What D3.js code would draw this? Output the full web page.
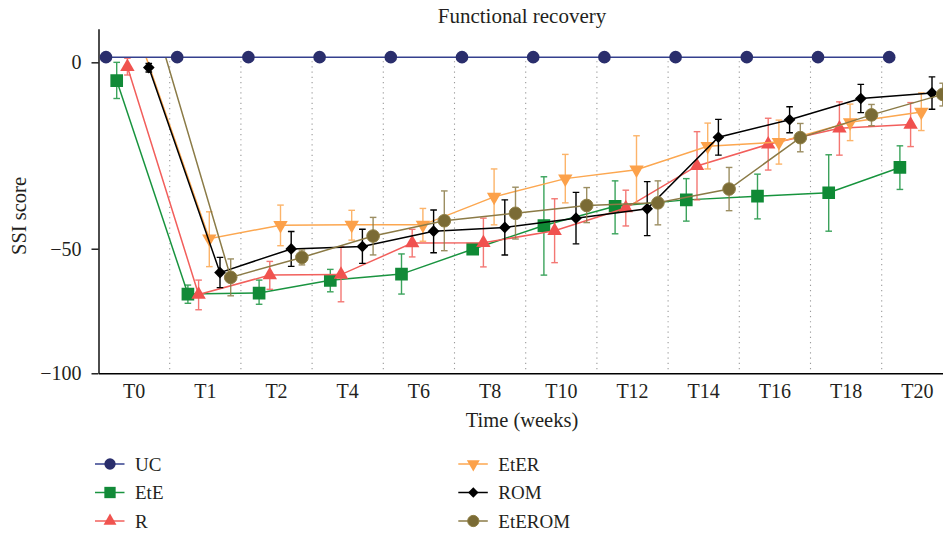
<!DOCTYPE html>
<html>
<head>
<meta charset="utf-8">
<script src="https://cdn.jsdelivr.net/npm/d3@7"></script>
<style>
  body { margin: 0; background: #fff; }
  text { font-family: "Liberation Serif", "Times New Roman", serif; fill: #231f20; }
</style>
</head>
<body>
<svg id="chart" width="943" height="533"></svg>
<script>
var times = ["T0", "T1", "T2", "T4", "T6", "T8", "T10", "T12", "T14", "T16", "T18", "T20"];
var groups = ["UC", "EtE", "R", "EtER", "ROM", "EtEROM"];
var yTicks = [0, -50, -100];

var ucMean = [1.4, 1.4, 1.4, 1.4, 1.4, 1.4, 1.4, 1.4, 1.4, 1.4, 1.4, 1.4];

var eteMean = [-4.9, -68.2, -67.8, -62.7, -60.2, -50.2, -43.8, -38.6, -36.9, -35.9, -35.0, -28.2];
var eteLo   = [-9.7, -71.9, -72.3, -67.3, -68.2, -51.0, -60.6, -46.0, -42.6, -42.0, -45.3, -34.1];
var eteHi   = [0.0, -64.6, -62.6, -58.3, -52.1, -49.4, -30.7, -31.8, -31.2, -30.0, -24.8, -22.4];

var rMean = [-1.2, -68.4, -60.6, -60.4, -48.5, -48.4, -45.2, -39.1, -27.8, -22.0, -17.7, -16.7];
var rLo   = [-3.4, -74.5, -66.3, -71.3, -53.3, -57.3, -55.6, -43.9, -36.9, -28.9, -24.9, -22.6];
var rHi   = [1.1, -62.6, -55.1, -49.5, -44.8, -41.8, -36.6, -34.3, -18.6, -15.0, -10.6, -10.8];

var eterMean = [7.5, -47.3, -43.7, -43.6, -43.6, -36.1, -31.2, -28.8, -22.5, -21.4, -16.1, -13.3];
var eterLo   = [5.5, -57.2, -49.2, -47.7, -48.0, -43.6, -37.7, -37.8, -28.6, -27.3, -21.0, -18.3];
var eterHi   = [9.5, -40.1, -38.3, -39.7, -39.2, -28.6, -24.7, -19.7, -16.3, -15.5, -11.2, -8.2];

var romMean = [-1.4, -59.6, -50.1, -49.4, -45.3, -44.3, -41.8, -39.3, -20.1, -15.4, -9.7, -8.2];
var romLo   = [-2.6, -65.6, -57.1, -55.9, -51.6, -52.5, -48.7, -46.5, -24.9, -18.9, -13.5, -12.6];
var romHi   = [-0.3, -53.5, -45.4, -44.8, -39.6, -36.9, -34.9, -32.0, -15.3, -11.9, -5.9, -3.9];

var eteromMean = [7.0, -61.5, -53.5, -46.6, -42.5, -40.5, -38.4, -37.7, -34.0, -20.2, -14.1, -8.6];
var eteromLo   = [5.0, -68.9, -56.5, -52.5, -50.8, -47.4, -43.0, -43.6, -39.8, -24.0, -17.0, -11.7];
var eteromHi   = [9.0, -54.1, -50.5, -41.6, -34.5, -33.5, -33.6, -31.8, -28.2, -16.4, -11.3, -5.6];

function pack(mean, lo, hi) {
  return times.map(function (t, i) {
    return { time: t, mean: mean[i], lo: lo ? lo[i] : null, hi: hi ? hi[i] : null };
  });
}

var series = [
  { group: "UC", values: pack(ucMean) },
  { group: "EtE", values: pack(eteMean, eteLo, eteHi) },
  { group: "R", values: pack(rMean, rLo, rHi) },
  { group: "EtER", values: pack(eterMean, eterLo, eterHi) },
  { group: "ROM", values: pack(romMean, romLo, romHi) },
  { group: "EtEROM", values: pack(eteromMean, eteromLo, eteromHi) }
];

var color = d3.scaleOrdinal()
  .domain(groups)
  .range(["#2a2e6c", "#128a38", "#f0534f", "#fca14a", "#000000", "#7a6b35"]);

var lineColor = d3.scaleOrdinal()
  .domain(groups)
  .range(["#34408e", "#1a9440", "#f2605c", "#fca750", "#000000", "#8b7b47"]);

var shape = {
  UC: { type: d3.symbolCircle, size: 125, rot: 0 },
  EtE: { type: d3.symbolSquare, size: 160, rot: 0 },
  R: { type: d3.symbolTriangle, size: 90, rot: 0 },
  EtER: { type: d3.symbolTriangle, size: 90, rot: 180 },
  ROM: { type: d3.symbolSquare, size: 68, rot: 45 },
  EtEROM: { type: d3.symbolCircle, size: 125, rot: 0 }
};

var svg = d3.select("#chart"),
  margin = { left: 98.5, top: 0 };

var g = svg.append("g").attr("transform", "translate(" + margin.left + "," + margin.top + ")");

var x = d3.scaleBand()
  .domain(times)
  .range([0, 12 * 71.2]);

// each group sits at its own offset inside a time band
var dodge = d3.scalePoint()
  .domain(groups)
  .range([7.5, 61]);

// the axis is not linear: 0..-50 is stretched compared to -50..-100
var y = d3.scaleLinear()
  .domain([-100, -50, 9])
  .range([373.3, 248.7, 28.8]);

function px(d, grp) { return x(d.time) + dodge(grp); }

svg.append("defs").append("clipPath")
  .attr("id", "plotClip")
  .append("rect")
  .attr("x", -5)
  .attr("y", y(1.4))
  .attr("width", 900)
  .attr("height", y(-100) - y(1.4) + 5);

// dotted separators between the time bands
g.append("g")
  .selectAll("line")
  .data(times.slice(1))
  .enter().append("line")
  .attr("x1", d => x(d))
  .attr("x2", d => x(d))
  .attr("y1", y(1.4) + 4)
  .attr("y2", y(-100))
  .attr("stroke", "#9a9a9a")
  .attr("stroke-width", 1.1)
  .attr("stroke-dasharray", "1.2,4");

// axes
var xAxis = g.append("g")
  .attr("transform", "translate(0," + y(-100) + ")")
  .call(d3.axisBottom(x).tickSize(0).tickPadding(11));
xAxis.select(".domain").attr("stroke", "#000").attr("stroke-width", 1.4);
xAxis.selectAll("text").style("font-size", "20px").attr("font-family", null);

var yAxis = g.append("g")
  .call(d3.axisLeft(y).tickValues(yTicks).tickSize(7).tickPadding(10).tickSizeOuter(0));
yAxis.select(".domain").attr("stroke", "#000").attr("stroke-width", 1.4);
yAxis.selectAll(".tick line").attr("stroke", "#000").attr("stroke-width", 1.3);
yAxis.selectAll("text").style("font-size", "20px").attr("font-family", null);

var plot = g.append("g").attr("clip-path", "url(#plotClip)");

function drawSeries(layer, s) {
  var grp = s.group;
  var lf = d3.line()
    .x(d => px(d, grp))
    .y(d => y(d.mean));

  layer.append("path")
    .attr("d", lf(s.values))
    .attr("fill", "none")
    .attr("stroke", lineColor(grp))
    .attr("stroke-width", 1.5);

  var errs = layer.append("g")
    .attr("stroke", lineColor(grp))
    .attr("stroke-width", 1.4)
    .attr("opacity", grp === "ROM" ? 1 : 0.85)
    .selectAll("g")
    .data(s.values.filter(d => d.lo !== null))
    .enter().append("g");

  errs.append("line")
    .attr("x1", d => px(d, grp)).attr("x2", d => px(d, grp))
    .attr("y1", d => y(d.lo)).attr("y2", d => y(d.hi));
  errs.append("line")
    .attr("x1", d => px(d, grp) - 3.3).attr("x2", d => px(d, grp) + 3.3)
    .attr("y1", d => y(d.lo)).attr("y2", d => y(d.lo));
  errs.append("line")
    .attr("x1", d => px(d, grp) - 3.3).attr("x2", d => px(d, grp) + 3.3)
    .attr("y1", d => y(d.hi)).attr("y2", d => y(d.hi));

  var sh = shape[grp];
  layer.append("g")
    .selectAll("path")
    .data(s.values)
    .enter().append("path")
    .attr("d", d3.symbol().type(sh.type).size(sh.size))
    .attr("transform", d => "translate(" + px(d, grp) + "," + y(d.mean) + ") rotate(" + sh.rot + ")")
    .attr("fill", color(grp))
    .attr("stroke", grp === "EtEROM" ? "#8f7f45" : "none")
    .attr("stroke-width", 1);
}

series.slice(1).forEach(function (s) { drawSeries(plot, s); });
// UC is drawn last and is not clipped
drawSeries(g.append("g"), series[0]);

// title and axis names
svg.append("text")
  .attr("x", 522)
  .attr("y", 23)
  .attr("text-anchor", "middle")
  .style("font-size", "21px")
  .text("Functional recovery");

svg.append("text")
  .attr("x", 522)
  .attr("y", 427)
  .attr("text-anchor", "middle")
  .style("font-size", "20.5px")
  .text("Time (weeks)");

svg.append("text")
  .attr("transform", "translate(26,216) rotate(-90)")
  .attr("text-anchor", "middle")
  .style("font-size", "20.5px")
  .text("SSI score");

// legend, two columns of three
var legend = svg.append("g")
  .selectAll("g")
  .data(groups)
  .enter().append("g")
  .attr("transform", function (d, i) {
    var col = Math.floor(i / 3), row = i % 3;
    return "translate(" + (95 + col * 363.3) + "," + (464 + row * 28.5) + ")";
  });

legend.append("line")
  .attr("x1", 0).attr("x2", 29.5)
  .attr("stroke", d => lineColor(d))
  .attr("stroke-width", 1.5);

legend.append("path")
  .attr("d", d => d3.symbol().type(shape[d].type).size(shape[d].size * 0.8)())
  .attr("transform", d => "translate(15,0) rotate(" + shape[d].rot + ")")
  .attr("fill", d => color(d))
  .attr("stroke", d => d === "EtEROM" ? "#8f7f45" : "none");

legend.append("text")
  .attr("x", 40)
  .attr("dy", "0.35em")
  .style("font-size", "19px")
  .text(d => d);
</script>
</body>
</html>
